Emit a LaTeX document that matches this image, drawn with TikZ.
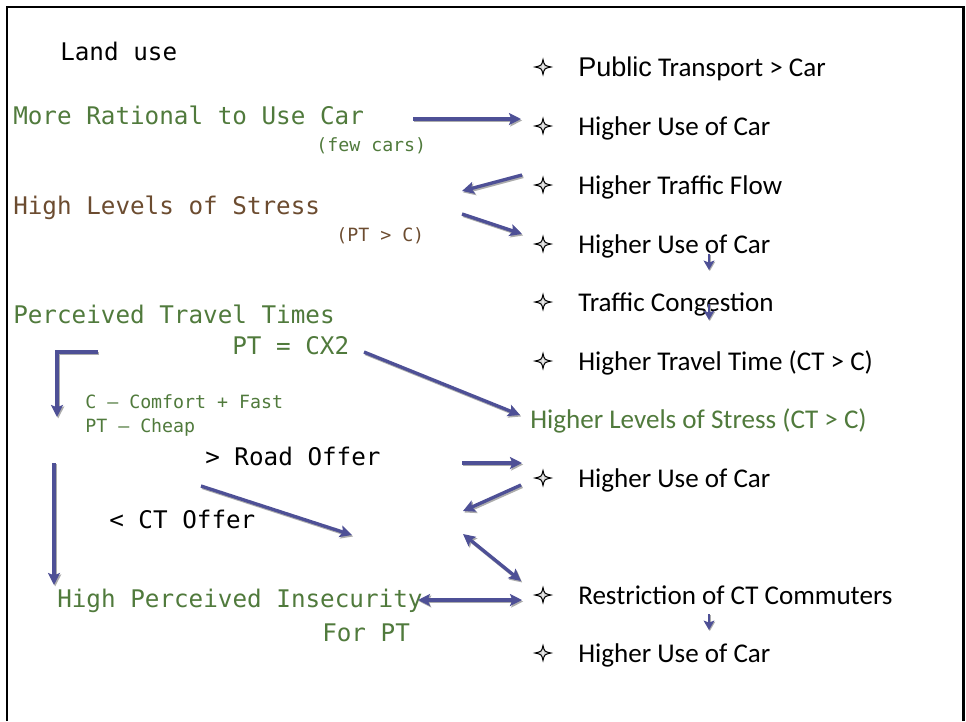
\documentclass[tikz,border=0pt]{standalone}
\usepackage{fontspec}
\usetikzlibrary{arrows.meta}
\newfontfamily\monofont{DejaVu Sans Mono}
\newfontfamily\itemfont{Carlito}
\newfontfamily\arialfont{Liberation Sans}
\definecolor{leafgreen}{RGB}{80,122,60}
\definecolor{barkbrown}{RGB}{108,76,48}
\definecolor{flowblue}{RGB}{78,80,150}
\begin{document}
\begin{tikzpicture}[x=0.75pt,y=-0.75pt,
  bigtxt/.style={font=\monofont\fontsize{18.2}{20}\selectfont, inner sep=0pt, anchor=base west},
  smalltxt/.style={font=\monofont\fontsize{13.7}{16}\selectfont, inner sep=0pt, anchor=base west},
  itemtxt/.style={font=\itemfont\fontsize{20.3}{24}\selectfont, inner sep=0pt, anchor=base west},
  flow/.style={draw=flowblue, line width=2.5pt,
    -{Stealth[length=9pt,width=9pt,inset=1.8pt]},
    preaction={draw=gray!65, line width=2.5pt, transform canvas={shift={(0.9pt,-1.1pt)}}}},
  bothflow/.style={flow, {Stealth[length=9pt,width=9pt,inset=1.8pt]}-{Stealth[length=9pt,width=9pt,inset=1.8pt]}},
  smallflow/.style={draw=flowblue, line width=2.2pt,
    -{Stealth[length=7pt,width=8pt,inset=1.4pt]},
    preaction={draw=gray!65, line width=2.2pt, transform canvas={shift={(0.6pt,-0.8pt)}}}},
  sparkle/.pic={
    \fill[gray!35] (0,-7.5) .. controls (0.8,-2) .. (8,0) .. controls (0.8,2) .. (0,7.5)
      .. controls (-0.8,2) .. (-8,0) .. controls (-0.8,-2) .. cycle;
    \draw[black, line width=0.75pt, line join=miter]
      (0,-7.5) .. controls (1.4,-1.4) .. (8,0) .. controls (1.4,1.4) .. (0,7.5)
      .. controls (-1.4,1.4) .. (-8,0) .. controls (-1.4,-1.4) .. cycle;
    \fill[white] (0,-3) -- (0.6,0) -- (0,3) -- (-0.6,0) -- cycle;
  },
]
\useasboundingbox (0,0) rectangle (966,721);

% frame, open at the bottom
\draw[line width=1.9pt] (7,721) -- (7,7) -- (963.5,7) -- (963.5,721);

% left column
\node[bigtxt] (landuse) at (60,60) {Land use};
\node[bigtxt, text=leafgreen] (rational) at (13,124) {More Rational to Use Car};
\node[smalltxt, text=leafgreen] (fewcars) at (316,151) {(few cars)};
\node[bigtxt, text=barkbrown] (stress) at (13,214) {High Levels of Stress};
\node[smalltxt, text=barkbrown] (ptc) at (336,241) {(PT > C)};
\node[bigtxt, text=leafgreen] (perceived) at (13,323) {Perceived Travel Times};
\node[bigtxt, text=leafgreen] (cx2) at (232,354) {PT = CX2};
\node[smalltxt, text=leafgreen] (comfort) at (85,408) {C – Comfort + Fast};
\node[smalltxt, text=leafgreen] (cheap) at (85,432) {PT – Cheap};
\node[bigtxt] (road) at (205,465) {> Road Offer};
\node[bigtxt] (ctoffer) at (109,528) {< CT Offer};
\node[bigtxt, text=leafgreen] (insecure) at (57,607) {High Perceived Insecurity};
\node[bigtxt, text=leafgreen] (forpt) at (322,641) {For PT};

% right column
\node[itemtxt] (r1) at (578,76) {{\arialfont Public} Transport > Car};
\node[itemtxt] (r2) at (578,135) {Higher Use of Car};
\node[itemtxt] (r3) at (578,194) {Higher Traffic Flow};
\node[itemtxt] (r4) at (578,253) {Higher Use of Car};
\node[itemtxt] (r5) at (578,311) {Traffic Congestion};
\node[itemtxt] (r6) at (578,370) {Higher Travel Time (CT > C)};
\node[itemtxt, text=leafgreen] (r7) at (530,428) {Higher Levels of Stress (CT > C)};
\node[itemtxt] (r8) at (578,487) {Higher Use of Car};
\node[itemtxt] (r9) at (578,604) {Restriction of CT Commuters};
\node[itemtxt] (r10) at (578,662) {Higher Use of Car};

% bullets
\foreach \yy in {67,126,185,244,302,361,478,595,653}
  \pic at (543,\yy) {sparkle};

% arrow end points
\coordinate (a1s) at (413,119);  \coordinate (a1e) at (521,119);
\coordinate (a2s) at (522,175);  \coordinate (a2e) at (462,191);
\coordinate (a3s) at (462,214);  \coordinate (a3e) at (522,234);
\coordinate (a4s) at (709,254);  \coordinate (a4e) at (709,270);
\coordinate (a5s) at (709,304);  \coordinate (a5e) at (709,320);
\coordinate (a6s) at (98,352);   \coordinate (a6k) at (57,352);  \coordinate (a6e) at (57,417);
\coordinate (a7s) at (364,352);  \coordinate (a7e) at (520,415);
\coordinate (a8s) at (462,463);  \coordinate (a8e) at (522,463);
\coordinate (a9s) at (521,485);  \coordinate (a9e) at (463,511);
\coordinate (a10s) at (201,486); \coordinate (a10e) at (352,535);
\coordinate (a11s) at (463,534); \coordinate (a11e) at (521,581);
\coordinate (a12s) at (418,600); \coordinate (a12e) at (522,600);
\coordinate (a13s) at (54,463);  \coordinate (a13e) at (54,585);
\coordinate (a14s) at (709,614); \coordinate (a14e) at (709,630);

% connectors
\draw[flow] (a1s) -- (a1e);
\draw[flow] (a2s) -- (a2e);
\draw[flow] (a3s) -- (a3e);
\draw[smallflow] (a4s) -- (a4e);
\draw[smallflow] (a5s) -- (a5e);
\draw[flow] (a6s) -- (a6k) -- (a6e);
\draw[flow] (a7s) -- (a7e);
\draw[flow] (a8s) -- (a8e);
\draw[flow] (a9s) -- (a9e);
\draw[flow] (a10s) -- (a10e);
\draw[bothflow] (a11s) -- (a11e);
\draw[bothflow] (a12s) -- (a12e);
\draw[flow] (a13s) -- (a13e);
\draw[smallflow] (a14s) -- (a14e);
\end{tikzpicture}
\end{document}
